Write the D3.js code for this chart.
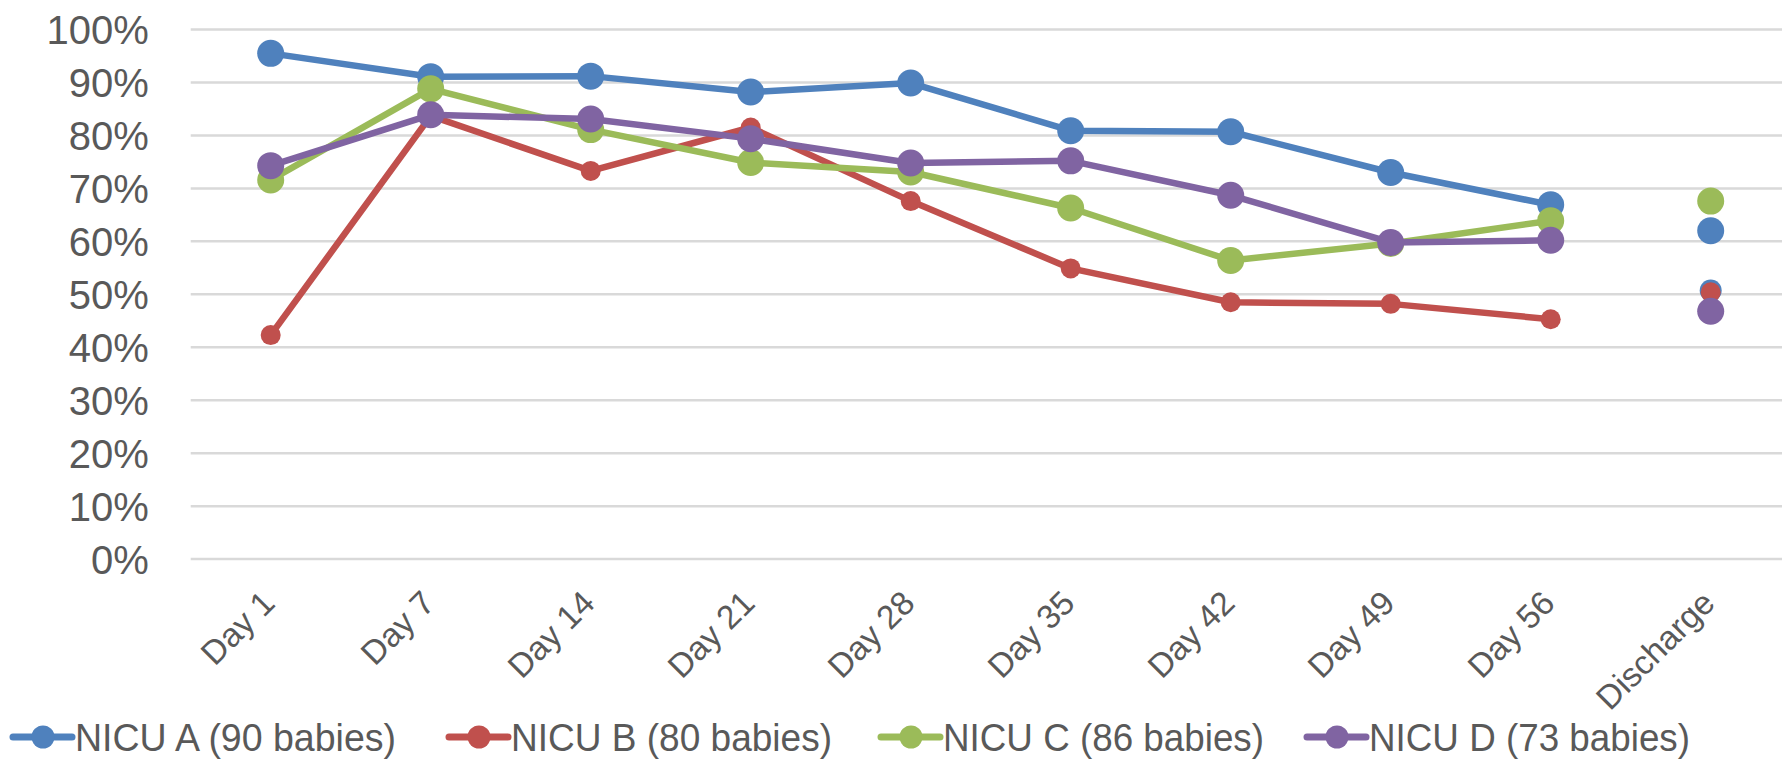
<!DOCTYPE html>
<html>
<head>
<meta charset="utf-8">
<script src="https://cdn.jsdelivr.net/npm/d3@7"></script>
<style>
  body { margin: 0; background: #fff; overflow: hidden; }
  text { font-family: Arial, "Liberation Sans", sans-serif; fill: #595959; }
</style>
</head>
<body>
<div id="chart"></div>
<script>
// categories along the x axis
var days = ["Day 1", "Day 7", "Day 14", "Day 21", "Day 28", "Day 35", "Day 42", "Day 49", "Day 56", "Discharge"]
var lineDays = days.slice(0, 9)

// share of babies per unit, Day 1 .. Day 56
var nicuA = [0.954, 0.910, 0.911, 0.881, 0.898, 0.808, 0.806, 0.729, 0.668]
var nicuB = [0.422, 0.836, 0.732, 0.814, 0.675, 0.548, 0.484, 0.481, 0.452]
var nicuC = [0.715, 0.887, 0.810, 0.748, 0.730, 0.662, 0.563, 0.595, 0.638]
var nicuD = [0.742, 0.838, 0.830, 0.793, 0.747, 0.751, 0.686, 0.597, 0.601]

// discharge points (not joined to the lines)
var dischargeA = [0.619, 0.506]
var dischargeB = [0.503]
var dischargeC = [0.675]
var dischargeD = [0.467]

var names = ["NICU A (90 babies)", "NICU B (80 babies)", "NICU C (86 babies)", "NICU D (73 babies)"]
var colors = ["#4f81bd", "#c0504d", "#9bbb59", "#8064a2"]

var width = 1782, height = 759

var series = [
  {name: names[0], color: colors[0], values: nicuA, discharge: dischargeA, r: 13.5},
  {name: names[1], color: colors[1], values: nicuB, discharge: dischargeB, r: 10},
  {name: names[2], color: colors[2], values: nicuC, discharge: dischargeC, r: 13.5},
  {name: names[3], color: colors[3], values: nicuD, discharge: dischargeD, r: 13.5}
]

var x = d3.scaleBand().domain(days).range([190.7, 1790.7]).padding(0)
var y = d3.scaleLinear().domain([0, 1]).range([558.6, 29])
var cx = function(c) { return x(c) + x.bandwidth() / 2 }

var svg = d3.select('#chart').append('svg').attr('width', width).attr('height', height)

// gridlines + y labels
var yAxis = svg.append('g').attr('transform', 'translate(190.7,0)')
  .call(d3.axisLeft(y).ticks(10).tickFormat(d3.format('.0%')).tickSize(-1600).tickPadding(42))
yAxis.select('.domain').remove()
yAxis.selectAll('line').attr('stroke', '#d9d9d9').attr('stroke-width', 2.5)
yAxis.selectAll('text').attr('font-size', 40).attr('fill', '#595959').attr('dy', '0.36em')

// x labels, rotated
svg.append('g').selectAll('text')
  .data(days).join('text')
  .attr('transform', function(d) { return 'translate(' + (cx(d) + 6) + ',605) rotate(-45)' })
  .attr('text-anchor', 'end')
  .attr('font-size', 33.5)
  .text(function(d) { return d })

var line = d3.line()
  .x(function(d, i) { return cx(lineDays[i]) })
  .y(function(d) { return y(d) })

// lines and markers, in series order
series.forEach(function(s) {
  var g = svg.append('g')
  g.append('path').datum(s.values)
    .attr('d', line)
    .attr('fill', 'none')
    .attr('stroke', s.color)
    .attr('stroke-width', 6.5)
    .attr('stroke-linejoin', 'round')
  g.selectAll('circle.pt').data(s.values).join('circle')
    .attr('class', 'pt')
    .attr('cx', function(d, i) { return cx(lineDays[i]) })
    .attr('cy', function(d) { return y(d) })
    .attr('r', s.r)
    .attr('fill', s.color)
  g.selectAll('circle.dc').data(s.discharge).join('circle')
    .attr('class', 'dc')
    .attr('cx', cx('Discharge'))
    .attr('cy', function(d) { return y(d) })
    .attr('r', function(d, i) { return i == 0 ? s.r : 11 })
    .attr('fill', s.color)
})

// legend
var legendX = [13, 449, 881, 1307]
var legend = svg.append('g').selectAll('g')
  .data(series).join('g')
  .attr('transform', function(d, i) { return 'translate(' + legendX[i] + ',737)' })
legend.append('line')
  .attr('x1', 0).attr('x2', 59)
  .attr('stroke', function(d) { return d.color })
  .attr('stroke-width', 7)
  .attr('stroke-linecap', 'round')
legend.append('circle')
  .attr('cx', 30).attr('r', 11.5)
  .attr('fill', function(d) { return d.color })
legend.append('text')
  .attr('x', 62).attr('dy', '0.36em')
  .attr('font-size', 38)
  .attr('textLength', 321).attr('lengthAdjust', 'spacingAndGlyphs')
  .text(function(d) { return d.name })
</script>
</body>
</html>
